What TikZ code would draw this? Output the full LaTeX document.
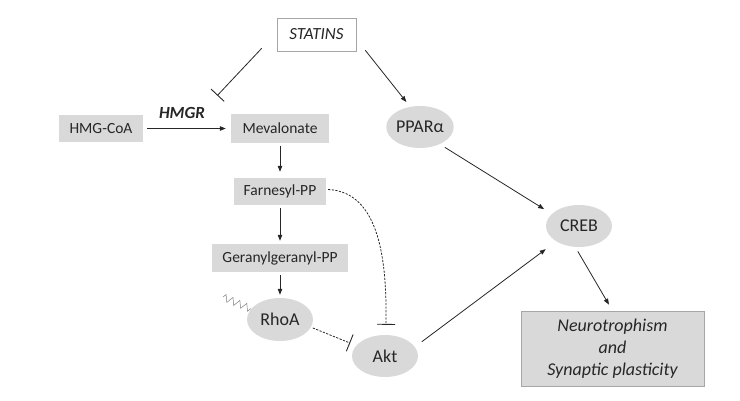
\documentclass[tikz,border=0pt]{standalone}
\usepackage{fontspec}
\setmainfont{Carlito}
\usetikzlibrary{arrows.meta,shapes.geometric,calc,decorations.pathmorphing}
\definecolor{boxgray}{HTML}{D9D9D9}
\definecolor{edgegray}{HTML}{A6A6A6}
\definecolor{ink}{HTML}{262626}
\begin{document}
\begin{tikzpicture}[x=1pt,y=-1pt,
  every node/.style={text=ink},
  rbox/.style={rectangle,fill=boxgray,inner sep=0pt,font=\fontsize{15.5}{18}\selectfont},
  oval/.style={ellipse,fill=boxgray,inner sep=0pt,minimum width=66pt,minimum height=42pt,font=\fontsize{18}{20}\selectfont},
  act/.style={draw=ink,line width=0.8pt,-{Triangle[length=6pt,width=4.5pt]}},
  inh/.style={draw=ink,line width=0.8pt,-{Bar[width=18pt,line width=0.9pt]}},
  dsh/.style={dash pattern=on 2.2pt off 1.4pt}
]
\useasboundingbox (0,0) rectangle (740,400);

% nodes
\node[rectangle,draw=edgegray,fill=white,line width=0.6pt,inner sep=0pt,minimum width=79pt,minimum height=33pt,font=\fontsize{17}{20}\selectfont\itshape] (statins) at (316.5,34.5) {STATINS};
\node[rbox,minimum width=84pt,minimum height=27pt] (hmg) at (101,128.5) {HMG-CoA};
\node[rbox,minimum width=98pt,minimum height=28.5pt] (mev) at (280,128.5) {Mevalonate};
\node[rbox,minimum width=92pt,minimum height=27pt] (farn) at (280,191.5) {Farnesyl-PP};
\node[rbox,minimum width=136pt,minimum height=28pt] (gera) at (280,258) {Geranylgeranyl-PP};
\node[font=\fontsize{17}{20}\selectfont\bfseries\itshape] (hmgr) at (182,113) {HMGR};

\node[oval,minimum width=64pt] (ppar) at (420,127) {PPARα};
\node[oval,minimum height=43pt] (rhoa) at (280,319.5) {RhoA};
\node[oval] (akt) at (385,356) {Akt};
\node[oval] (creb) at (579,226) {CREB};

\node[rectangle,draw=edgegray,fill=boxgray,line width=0.6pt,inner sep=0pt,minimum width=183pt,minimum height=75pt,align=center,font=\fontsize{18}{22}\selectfont\itshape] (neuro) at (612.5,348.5) {Neurotrophism\\and\\Synaptic plasticity};

\coordinate (zz) at (223,297);

% connectors
\draw[inh] ($(statins.south west)+(-15,-3)$) -- ($(mev.north west)+(-13.5,-18.5)$);
\draw[act] ($(statins.south east)+(9,-1)$) -- (ppar.116.6) [shorten >=6pt];
\draw[act,shorten <=4pt,shorten >=5pt] (hmg.east) -- (mev.west);
\draw[act,shorten <=3pt,shorten >=6pt] (mev.south) -- (farn.north);
\draw[act,shorten <=3pt,shorten >=3pt] (farn.south) -- (gera.north);
\draw[act,shorten <=3pt,shorten >=3pt] (gera.south) -- (rhoa.north);
\draw[inh,dsh] ($(farn.east)+(2,-2)$) .. controls (380,192) and (387,262) .. ($(akt.north)+(1,-10)$);
\draw[inh,dsh,shorten <=2pt,shorten >=6.5pt] (rhoa.-14.4) -- (akt.160.3);
\draw[draw=gray,line width=0.5pt,decorate,decoration={zigzag,segment length=7.5pt,amplitude=3.5pt}] (zz) -- (rhoa.160);
\draw[act,shorten <=6pt,shorten >=9pt] (ppar.-41) -- (creb.156);
\draw[act,shorten <=8.5pt,shorten >=13pt] (akt.17.5) -- (creb.214.9);
\draw[act,shorten <=5pt,shorten >=7pt] (creb.-100) -- (neuro.north);
\end{tikzpicture}
\end{document}
